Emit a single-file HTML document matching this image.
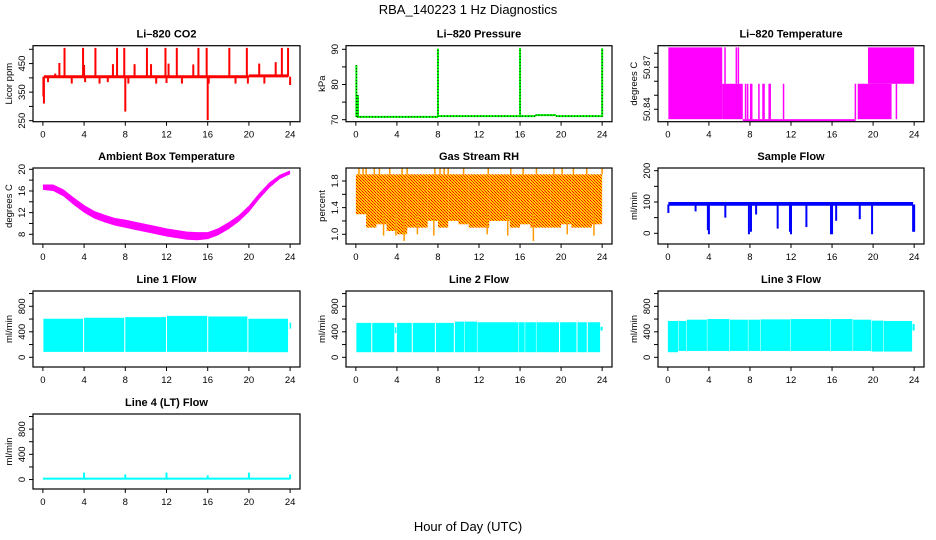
<!DOCTYPE html>
<html><head><meta charset="utf-8"><style>
html,body{margin:0;padding:0;background:#fff;width:936px;height:540px;overflow:hidden}
svg text{font-family:"Liberation Sans",sans-serif}
</style></head><body>
<svg id="fig" width="936" height="540" viewBox="0 0 936 540" xmlns="http://www.w3.org/2000/svg">
<defs>
<pattern id="rhpat" width="3" height="3" patternUnits="userSpaceOnUse">
<rect width="3" height="3" fill="#ffcc00"/><rect width="1" height="1" fill="#ff0000"/><rect x="1" y="1" width="1" height="1" fill="#ff3300"/><rect x="2" y="2" width="1" height="1" fill="#ff0000"/>
</pattern>
</defs>
<text x="468" y="14" font-size="13" text-anchor="middle">RBA_140223  1 Hz Diagnostics</text>
<text x="468" y="531" font-size="13" text-anchor="middle">Hour of Day (UTC)</text>
</svg>
<script>
// ---- data ----
const xTicks = [0,4,8,12,16,20,24];
// CO2
const co2BaseStart = [0.1, 20.0];
const co2BaseEnd = [20.0, 23.8];
const co2BaseValue = [404, 407];
const co2SpikeHours = [0.05,0.1,0.5,1.2,1.6,2.1,2.8,3.9,4.0,4.1,5.1,5.5,6.3,6.8,7.2,7.9,8.0,8.3,8.9,10.1,10.5,11.0,11.9,12.0,12.2,13.0,13.5,14.6,15.1,15.9,16.0,16.1,18.1,18.7,19.8,19.9,21.0,21.5,22.6,23.2,23.8,24.0];
const co2SpikeValues = [335,310,385,415,452,505,380,505,445,385,505,380,385,448,505,505,282,380,448,505,448,380,505,382,450,505,380,447,505,505,252,380,505,380,505,380,450,380,455,505,505,375];
// Pressure
const presBaseStart = [0.1, 8.0, 17.5, 19.5];
const presBaseEnd = [8.0, 17.5, 19.5, 24.0];
const presBaseValue = [70.8, 71.0, 71.3, 71.0];
const presSpikeHours = [0.05, 0.2, 8.0, 16.0, 24.0];
const presSpikeValues = [85.5, 77, 90.2, 90.4, 90.3];
// Li-820 temperature (levels)
const ltStart = [0.05,5.3,5.5,6.6,6.8,7.5,7.7,8.0,8.1,8.8,9.2,9.3,9.8,9.9,11.2,7.3,18.2,18.5,18.6,19.5,22.2];
const ltEnd   = [5.3,7.3,5.5,6.6,6.8,7.5,7.7,8.0,8.1,8.8,9.2,9.3,9.8,9.9,11.2,18.3,18.2,18.5,21.8,24.0,22.2];
const ltLow   = [50.8329,50.8329,50.8582,50.8582,50.8582,50.8329,50.8329,50.8329,50.8329,50.8329,50.8329,50.8329,50.8329,50.8329,50.8329,50.8329,50.8329,50.8329,50.8329,50.8582,50.8329];
const ltHigh  = [50.8842,50.8582,50.8842,50.8842,50.8842,50.8582,50.8582,50.8582,50.8582,50.8582,50.8582,50.8582,50.8582,50.8582,50.8582,50.8329,50.8582,50.8582,50.8582,50.8842,50.8582];
// Ambient box temperature
const ambHours = [0,1,2,3,4,5,6,7,8,9,10,11,12,13,14,15,16,17,18,19,20,21,22,23,24];
const ambHigh = [17.2,17.2,16.3,14.8,13.4,12.3,11.6,11.0,10.7,10.3,9.9,9.5,9.1,8.8,8.5,8.4,8.4,9.1,10.2,11.5,13.3,15.6,17.6,19.0,19.8];
const ambLow  = [16.2,16.0,15.0,13.4,12.0,10.9,10.2,9.6,9.2,8.8,8.4,8.0,7.6,7.3,7.0,6.9,7.1,7.8,8.9,10.3,12.1,14.5,16.6,18.2,19.1];
// Gas stream RH
const rhHours = [0,1,2,3,4,5,6,7,8,9,10,11,12,13,14,15,16,17,18,19,20,21,22,23,24];
const rhLow = [1.3,1.1,1.15,1.05,1.0,1.1,1.1,1.2,1.1,1.2,1.15,1.1,1.1,1.2,1.2,1.1,1.15,1.1,1.1,1.1,1.15,1.1,1.1,1.15,1.5];
const rhTop = 1.9;
const rhDipHours = [2.7,3.9,4.7,6.0,7.6,12.8,14.8,17.3,20.6,23.2];
const rhDipValues = [0.98,0.98,0.9,1.0,0.98,1.0,0.98,0.9,1.0,0.98];
const rhPeakHours = [0.3,0.7,1.0,1.8,2.3,3.3,4.5,5.0,7.7,8.2,8.6,9.0,10.5,12.9,15.1,16.3,17.6,19.3,20.1,21.2,22.5,24.0];
// Sample flow
const sfBaseLow = 88;
const sfBaseHigh = 100;
const sfDipHours = [0.05,2.7,3.9,4.0,5.6,7.9,8.1,8.6,10.7,11.9,12.0,13.5,15.9,16.0,16.4,18.7,19.9,23.9,24.0];
const sfDipValues = [65,70,10,-3,50,-3,5,60,15,5,-3,20,-3,-3,40,45,-3,5,5];
// Line flows
const l1Start = [0.05,4.0,8.0,12.05,16.05,19.95,23.95];
const l1End   = [3.9,7.9,11.95,15.95,19.85,23.8,24.05];
const l1High  = [605,620,630,650,640,605,545];
const l1Low   = [85,85,85,85,85,80,450];
const l2Start = [0.05,1.6,3.8,4.0,5.55,7.8,9.65,10.6,11.85,15.9,16.5,17.6,19.9,21.6,22.6,23.85];
const l2End   = [1.5,3.75,3.95,5.45,7.7,9.55,10.55,11.8,15.85,16.45,17.55,19.8,21.5,22.5,23.8,24.05];
const l2High  = [540,540,470,540,540,540,560,560,550,550,550,550,550,550,550,480];
const l2Low   = [80,80,380,80,80,80,80,80,80,80,80,80,80,80,80,420];
const l3Start = [0.0,1.05,1.85,3.85,6.05,7.85,9.05,11.95,15.85,18.05,19.85,21.05,23.85];
const l3End   = [1.0,1.8,3.8,6.0,7.8,9.0,11.9,15.8,18.0,19.8,21.0,23.8,24.05];
const l3High  = [570,570,590,600,590,590,595,600,600,590,575,570,520];
const l3Low   = [80,100,100,100,100,100,100,100,100,100,90,90,420];
// Line 4
const l4Base = 15;
const l4SpikeHours = [4.0,8.0,12.0,16.0,20.0,24.0];
const l4SpikeValues = [110,80,110,65,110,80];

// ---- geometry ----
const NS = "http://www.w3.org/2000/svg";
const svg = document.getElementById('fig');
const cols = [[33,300],[346,612],[658,924]];
const rows = [[45.7,121.7],[168,244],[291,367],[414,489]];
function mk(tag, attrs, parent){
  const e = document.createElementNS(NS, tag);
  for (const k in attrs) e.setAttribute(k, attrs[k]);
  (parent||svg).appendChild(e);
  return e;
}
function panel(name, c, r, dom, yTicks, yLabels, yTitle, title){
  const [l, rr] = cols[c], [t, b] = rows[r];
  const pw = (rr-l)/1.08, x0 = l + pw*0.04;
  const X = h => x0 + h*pw/24;
  const Y = v => b - (v-dom[0])/(dom[1]-dom[0])*(b-t);
  const g = mk('g', {});
  
  
  const tt = mk('text', {x:(l+rr)/2, y:t-8, 'font-size':11, 'font-weight':'bold', 'text-anchor':'middle'}, g);
  
  
  tt.textContent = title;
  const marks = mk('g', {}, g);
  
  
  const ax = mk('g', {stroke:'#000', 'stroke-width':1}, g);
  
  
  const box = mk('rect', {x:l, y:t, width:rr-l, height:b-t, fill:'none', stroke:'#000', 'stroke-width':1.2}, ax);
  
  
  xTicks.forEach(h => {
    const tk = mk('line', {x1:X(h), x2:X(h), y1:b, y2:b+4}, ax);
    
    
    const lb = mk('text', {x:X(h), y:b+16, 'font-size':9.5, 'text-anchor':'middle', stroke:'none'}, ax);
    
    
    lb.textContent = h;
  });
  yTicks.forEach((v, i) => {
    const y = Y(v);
    const tk = mk('line', {x1:l-4, x2:l, y1:y, y2:y}, ax);
    
    
    if (yLabels[i] !== '') {
      const lb = mk('text', {x:0, y:0, 'font-size':9.5, 'text-anchor':'middle', stroke:'none', transform:`translate(${l-8},${y}) rotate(-90)`}, ax);
      
      
      lb.textContent = yLabels[i];
    }
  });
  const yt = mk('text', {x:0, y:0, 'font-size':9.5, 'text-anchor':'middle', stroke:'none', transform:`translate(${l-21},${(t+b)/2}) rotate(-90)`}, ax);
  
  
  yt.textContent = yTitle;
  return {X, Y, g:marks};
}
function vline(p, h, v1, v2, color, w, nm){
  const e = mk('line', {x1:p.X(h), x2:p.X(h), y1:p.Y(v1), y2:p.Y(v2), stroke:color, 'stroke-width':w}, p.g);
  
  
  return e;
}
function hline(p, h1, h2, v, color, w, nm){
  const e = mk('line', {x1:p.X(h1), x2:p.X(h2), y1:p.Y(v), y2:p.Y(v), stroke:color, 'stroke-width':w}, p.g);
  
  
  return e;
}
function band(p, h1, h2, lo, hi, fill, nm){
  const x1 = p.X(h1), x2 = Math.max(p.X(h2), x1+1.5);
  const y1 = p.Y(hi), y2 = Math.max(p.Y(lo), y1+2);
  const e = mk('rect', {x:x1, y:y1, width:x2-x1, height:y2-y1, fill:fill}, p.g);
  
  
  return e;
}

// CO2
const pC = panel('co2', 0, 0, [246.5,512.6], [250,300,350,400,450,500], ['250','','350','','450',''], 'Licor ppm', 'Li\u2013820 CO2');
co2BaseStart.forEach((s,i) => hline(pC, s, co2BaseEnd[i], co2BaseValue[i], '#ff0000', 3, 'co2-baseline'));
co2SpikeHours.forEach((h,i) => vline(pC, h, 404, co2SpikeValues[i], '#ff0000', 2, 'co2-spike'));

// Pressure
const pP = panel('pressure', 1, 0, [69.43,91.02], [70,75,80,85,90], ['70','','80','','90'], 'kPa', 'Li\u2013820 Pressure');
presBaseStart.forEach((s,i) => hline(pP, s, presBaseEnd[i], presBaseValue[i], '#00ff00', 2, 'pressure-baseline'));
presBaseStart.forEach((s,i) => { const e = hline(pP, s, presBaseEnd[i], presBaseValue[i], '#000', 1, 'pressure-baseline-dots'); e.setAttribute('stroke-dasharray','1 2'); });
presSpikeHours.forEach((h,i) => vline(pP, h, 70.8, presSpikeValues[i], '#00ff00', 2, 'pressure-spike'));
presSpikeHours.forEach((h,i) => { const e = vline(pP, h, 70.8, presSpikeValues[i], '#000', 1, 'pressure-spike-dots'); e.setAttribute('stroke-dasharray','1 2'); });

// Li-820 temperature
const pT = panel('li820-temp', 2, 0, [50.8311,50.8854], [50.84,50.85,50.86,50.87,50.88], ['50.84','','','50.87',''], 'degrees C', 'Li\u2013820 Temperature');
ltStart.forEach((s,i) => band(pT, s, ltEnd[i], ltLow[i], ltHigh[i], '#ff00ff', 'temp-level-segment'));

// Ambient
const pA = panel('ambient-temp', 0, 1, [6.21,20.24], [8,10,12,14,16,18,20], ['8','','12','','16','','20'], 'degrees C', 'Ambient Box Temperature');
{
  const pts = ambHours.map((h,i) => `${pA.X(h)},${pA.Y(ambHigh[i])}`).concat(ambHours.slice().reverse().map((h,j) => { const i = ambHours.length-1-j; return `${pA.X(h)},${pA.Y(ambLow[i])}`; }));
  const e = mk('polygon', {points:pts.join(' '), fill:'#ff00ff'}, pA.g);
  
  
}

// RH
const pR = panel('gas-rh', 1, 1, [0.854,1.995], [1.0,1.2,1.4,1.6,1.8], ['1.0','','1.4','','1.8'], 'percent', 'Gas Stream RH');
rhHours.forEach((h,i) => { if (i < rhHours.length-1) band(pR, h, rhHours[i+1], rhLow[i], rhTop, 'url(#rhpat)', 'rh-band'); });
rhDipHours.forEach((h,i) => vline(pR, h, 1.3, rhDipValues[i], '#ff9900', 1.5, 'rh-dip'));
rhPeakHours.forEach(h => vline(pR, h, rhTop, 1.99, '#ff9900', 1.5, 'rh-peak'));

// Sample flow
const pS = panel('sample-flow', 2, 1, [-34.2,208.6], [0,50,100,150,200], ['0','','100','','200'], 'ml/min', 'Sample Flow');
band(pS, 0.05, 23.9, sfBaseLow, sfBaseHigh, '#0000ff', 'sample-flow-band');
sfDipHours.forEach((h,i) => vline(pS, h, 92, sfDipValues[i], '#0000ff', 2, 'sample-flow-dip'));

// Line flows
const flowTicks = [0,200,400,600,800,1000], flowLabels = ['0','','400','','800',''];
const p1 = panel('line1-flow', 0, 2, [-152,1040], flowTicks, flowLabels, 'ml/min', 'Line 1 Flow');
l1Start.forEach((s,i) => band(p1, s, l1End[i], l1Low[i], l1High[i], '#00ffff', 'line1-flow-segment'));
const p2 = panel('line2-flow', 1, 2, [-152,1040], flowTicks, flowLabels, 'ml/min', 'Line 2 Flow');
l2Start.forEach((s,i) => band(p2, s, l2End[i], l2Low[i], l2High[i], '#00ffff', 'line2-flow-segment'));
const p3 = panel('line3-flow', 2, 2, [-152,1040], flowTicks, flowLabels, 'ml/min', 'Line 3 Flow');
l3Start.forEach((s,i) => band(p3, s, l3End[i], l3Low[i], l3High[i], '#00ffff', 'line3-flow-segment'));
const p4 = panel('line4-flow', 0, 3, [-150,1040], flowTicks, flowLabels, 'ml/min', 'Line 4 (LT) Flow');
band(p4, 0.0, 24.05, 0, l4Base+15, '#00ffff', 'line4-flow-base');
l4SpikeHours.forEach((h,i) => vline(p4, h, l4Base, l4SpikeValues[i], '#00ffff', 2, 'line4-flow-spike'));
</script>
</body></html>
